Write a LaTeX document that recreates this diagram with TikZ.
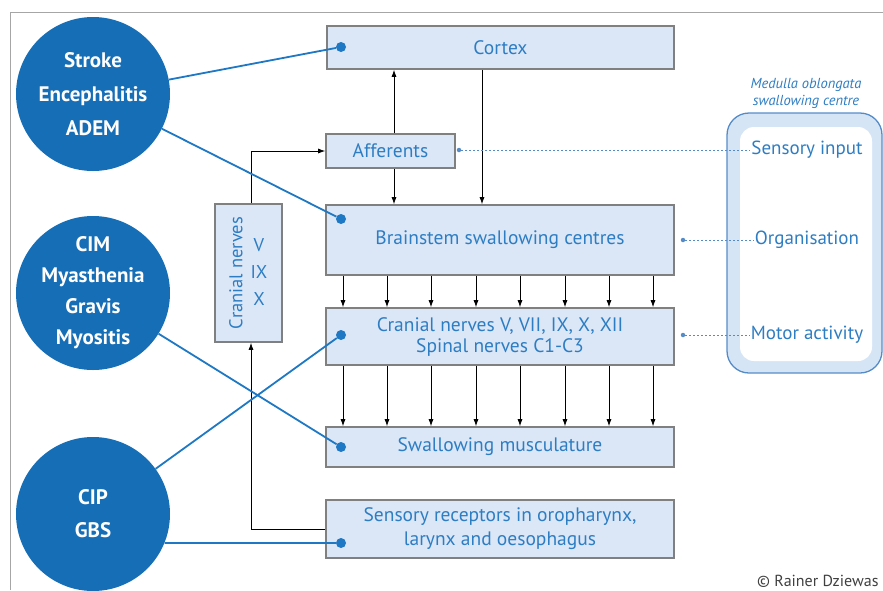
\documentclass[tikz,border=0pt]{standalone}
\usepackage{fontspec}
\setmainfont{PT Sans}
\usetikzlibrary{arrows.meta}
\definecolor{circblue}{RGB}{22,110,182}
\definecolor{lineblue}{RGB}{30,120,195}
\definecolor{boxfill}{RGB}{219,231,247}
\definecolor{boxgray}{RGB}{128,128,128}
\definecolor{txtblue}{RGB}{45,125,195}
\definecolor{bandblue}{RGB}{214,229,246}
\definecolor{rimblue}{RGB}{85,140,200}

\begin{document}
\begin{tikzpicture}[x=1pt,y=-1pt,
  box/.style={draw=boxgray,line width=1.6pt,fill=boxfill,text=txtblue,align=center,inner sep=0pt,
    font=\fontsize{19.5}{21}\selectfont},
  disease/.style={circle,fill=circblue,text=white,minimum size=154pt,inner sep=0pt,align=center},
  bline/.style={lineblue,line width=1.8pt},
  pin/.style={circle,fill=lineblue,minimum size=10pt,inner sep=0pt},
  smallpin/.style={circle,fill=rimblue,minimum size=4.5pt,inner sep=0pt},
  arr/.style={black,line width=0.8pt,-{Latex[length=7pt,width=5pt]}},
  dots/.style={rimblue,line width=1pt,dash pattern=on 1.6pt off 2.4pt},
  lab/.style={text=txtblue,font=\fontsize{19}{21}\selectfont,inner sep=1pt}]
\useasboundingbox (0,0) rectangle (883,590);
\draw[gray!70,line width=0.8pt] (10,590) -- (10,12) -- (883,12);

% medulla oblongata box
\draw[rimblue,line width=1.3pt,fill=bandblue,rounded corners=22pt] (727,113) rectangle (882,373);
\fill[white,rounded corners=14pt] (740,127) rectangle (872,361);
\node[text=txtblue,align=center,font=\itshape\fontsize{14.5}{17}\selectfont] (medtitle) at (806,93)
  {Medulla oblongata\\swallowing centre};
\node[lab] (insens) at (807,150) {Sensory input};
\node[lab] (inorg) at (807,240) {Organisation};
\node[lab] (inmot) at (807,335) {Motor activity};

% boxes
\node[box,minimum width=347pt,minimum height=43pt] (cortex) at (500.5,47.5) {Cortex};
\node[box,minimum width=129pt,minimum height=34pt] (aff) at (390.5,151) {Afferents};
\node[box,minimum width=348pt,minimum height=70pt] (brain) at (500,240) {Brainstem swallowing centres};
\node[box,minimum width=348pt,minimum height=57pt] (cran) at (500,336.5)
  {Cranial nerves V, VII, IX, X, XII\\Spinal nerves C1-C3};
\node[box,minimum width=348pt,minimum height=40pt] (musc) at (500,447) {Swallowing musculature};
\node[box,minimum width=348pt,minimum height=58pt,font=\fontsize{19.5}{24}\selectfont] (sens) at (500,529)
  {Sensory receptors in oropharynx,\\larynx and oesophagus};
\node[box,minimum width=67pt,minimum height=138pt] (vbox) at (248.5,273) {};
\node[text=txtblue,rotate=90,font=\fontsize{18.5}{21}\selectfont] (vname) at (236,273) {Cranial nerves};
\node[text=txtblue,align=center,font=\fontsize{18.5}{27}\selectfont] (vnums) at (259,272) {V\\IX\\X};

% arrows
\coordinate (a1) at (394,0);
\coordinate (a2) at (482,0);
\coordinate (a3) at (251,0);
\draw[arr] (aff.north -| a1) -- (cortex.south -| a1);
\draw[arr] (aff.south -| a1) -- (brain.north -| a1);
\draw[arr] (cortex.south -| a2) -- (brain.north -| a2);
\draw[arr] (vbox.north -| a3) |- (aff.west);
\draw[arr] (sens.west) -| (vbox.south -| a3);
\foreach \x in {343,387,431,476,520,565,609,653}{
  \coordinate (ax) at (\x,0);
  \draw[arr] (brain.south -| ax) -- (cran.north -| ax);
  \draw[arr] (cran.south -| ax) -- (musc.north -| ax);
}

% dotted links
\node[smallpin] (pa) at (459,150) {};
\node[smallpin] (pb) at (683,240) {};
\node[smallpin] (pc) at (683,335) {};
\draw[dots] (pa) -- (insens.west |- pa);
\draw[dots] (pb) -- (inorg.west |- pb);
\draw[dots] (pc) -- (inmot.west |- pc);

% diseases
\node[disease,font=\bfseries\fontsize{21}{34}\selectfont] (c1) at (93,94) {Stroke\\Encephalitis\\ADEM};
\node[disease,font=\bfseries\fontsize{21}{31}\selectfont] (c2) at (93,293) {CIM\\Myasthenia\\Gravis\\Myositis};
\node[disease,font=\bfseries\fontsize{21}{33}\selectfont] (c3) at (93,514) {CIP\\GBS};

\node[pin] (dcortex) at (341,47) {};
\node[pin] (dbrain) at (341,219) {};
\node[pin] (dcran) at (341,335) {};
\node[pin] (dmusc) at (341,447) {};
\node[pin] (dsens) at (341,543) {};
\draw[bline] (c1) -- (dcortex);
\draw[bline] (c1) -- (dbrain);
\draw[bline] (c2) -- (dmusc);
\draw[bline] (c3) -- (dcran);
\draw[bline] (c3.-22) -- (dsens);

\node[anchor=base east,text=black!75,font=\fontsize{16}{18}\selectfont] (copy) at (882,586) {© Rainer Dziewas};
\end{tikzpicture}
\end{document}
